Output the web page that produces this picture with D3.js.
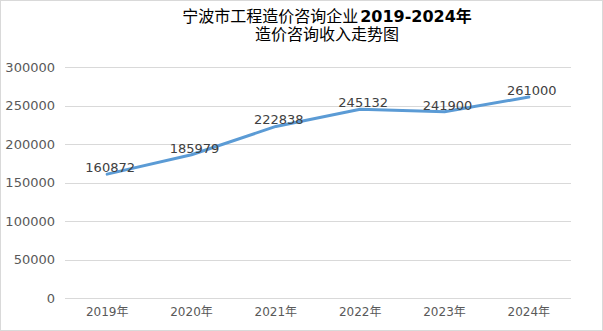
<!DOCTYPE html>
<html>
<head>
<meta charset="utf-8">
<script src="https://cdn.jsdelivr.net/npm/d3@7"></script>
<style>
  html, body { margin: 0; padding: 0; background: #fff; }
  svg { display: block; font-family: "DejaVu Sans", "Noto Sans CJK SC", sans-serif; }
</style>
</head>
<body>
<script>
// 宁波市工程造价咨询企业 造价咨询收入 (2019-2024)
const years = ["2019年", "2020年", "2021年", "2022年", "2023年", "2024年"];
const revenue = [160872, 185979, 222838, 245132, 241900, 261000];
const yTicks = [0, 50000, 100000, 150000, 200000, 250000, 300000];

const W = 603, H = 331;
const margin = { left: 65, right: 32, top: 67, bottom: 33 };

const svg = d3.select("body").append("svg")
  .attr("width", W).attr("height", H);

svg.append("rect")
  .attr("x", 0.5).attr("y", 0.5)
  .attr("width", W - 1).attr("height", H - 1)
  .attr("fill", "#fff").attr("stroke", "#d9d9d9");

const x = d3.scaleBand()
  .domain(years)
  .range([margin.left, W - margin.right]);

const y = d3.scaleLinear()
  .domain([0, 300000])
  .range([H - margin.bottom, margin.top]);

// gridlines
svg.append("g")
  .selectAll("line")
  .data(yTicks)
  .join("line")
  .attr("x1", margin.left).attr("x2", W - margin.right)
  .attr("y1", d => Math.round(y(d)) + 0.5).attr("y2", d => Math.round(y(d)) + 0.5)
  .attr("stroke", "#d9d9d9").attr("stroke-width", 1);

// y axis labels
const yAxis = d3.axisLeft(y).tickValues(yTicks).tickSize(0).tickPadding(10)
  .tickFormat(d3.format("d"));
svg.append("g")
  .attr("transform", `translate(${margin.left},0)`)
  .call(yAxis)
  .call(g => g.select(".domain").remove())
  .call(g => g.selectAll("text")
    .attr("fill", "#595959")
    .style("font-size", "13px")
    .style("font-family", "DejaVu Sans, sans-serif"));

// x axis labels
const xAxis = d3.axisBottom(x).tickSize(0).tickPadding(9);
svg.append("g")
  .attr("transform", `translate(0,${H - margin.bottom})`)
  .call(xAxis)
  .call(g => g.select(".domain").remove())
  .call(g => g.selectAll("text")
    .attr("fill", "#595959")
    .style("font-size", "12px")
    .style("font-family", "DejaVu Sans, Noto Sans CJK SC, sans-serif"));

// revenue line
const cx = d => x(d) + x.bandwidth() / 2;
const line = d3.line()
  .x((d, i) => cx(years[i]))
  .y(d => y(d));

svg.append("path")
  .datum(revenue)
  .attr("d", line)
  .attr("fill", "none")
  .attr("stroke", "#5b9bd5")
  .attr("stroke-width", 3)
  .attr("stroke-linecap", "round")
  .attr("stroke-linejoin", "round");

// value labels
svg.append("g")
  .selectAll("text")
  .data(revenue)
  .join("text")
  .attr("x", (d, i) => cx(years[i]) + 3)
  .attr("y", d => y(d) - 2)
  .attr("text-anchor", "middle")
  .attr("fill", "#404040")
  .style("font-size", "13px")
  .text(d => d);

// title
const title = svg.append("text")
  .attr("x", 327).attr("y", 22)
  .attr("text-anchor", "middle")
  .attr("fill", "#000")
  .style("font-size", "16px");
title.append("tspan").text("宁波市工程造价咨询企业")
  .style("font-family", "Noto Sans CJK SC, sans-serif");
title.append("tspan").text("2019-2024年").attr("dx", 2).attr("font-weight", "bold");

svg.append("text")
  .attr("x", 327).attr("y", 40)
  .attr("text-anchor", "middle")
  .attr("fill", "#000")
  .style("font-size", "16px")
  .style("font-family", "Noto Sans CJK SC, sans-serif")
  .text("造价咨询收入走势图");
</script>
</body>
</html>
